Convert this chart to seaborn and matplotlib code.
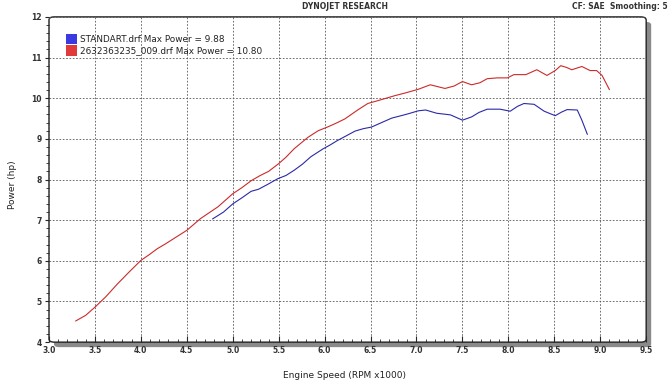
import numpy as np
import pandas as pd
import matplotlib
matplotlib.use('Agg')
import matplotlib.pyplot as plt
import seaborn as sns
from matplotlib.patches import FancyBboxPatch, Patch
from matplotlib.ticker import MultipleLocator

# 数据: 发动机转速 (x1000 RPM) 与功率 (hp)
red_rpm = [3.29, 3.40, 3.50, 3.62, 3.74, 3.87, 4.00, 4.09, 4.18, 4.27, 4.36, 4.50,
           4.65, 4.84, 5.00, 5.10, 5.20, 5.30, 5.39, 5.50, 5.58, 5.67, 5.82, 5.93,
           6.03, 6.12, 6.22, 6.36, 6.47, 6.58, 6.67, 6.76, 6.88, 7.02, 7.15, 7.31,
           7.41, 7.50, 7.60, 7.69, 7.77, 7.88, 7.99, 8.06, 8.19, 8.25, 8.31, 8.42,
           8.51, 8.57, 8.63, 8.69, 8.80, 8.89, 8.96, 9.02, 9.10]
red_hp = [4.52, 4.66, 4.86, 5.12, 5.42, 5.72, 6.01, 6.15, 6.30, 6.42, 6.55, 6.75,
          7.04, 7.33, 7.65, 7.80, 7.97, 8.10, 8.20, 8.39, 8.55, 8.76, 9.04, 9.20,
          9.29, 9.38, 9.49, 9.71, 9.87, 9.94, 10.00, 10.06, 10.13, 10.22, 10.33, 10.24,
          10.30, 10.41, 10.33, 10.38, 10.48, 10.50, 10.50, 10.58, 10.58, 10.64, 10.70, 10.56,
          10.68, 10.80, 10.76, 10.70, 10.78, 10.68, 10.68, 10.56, 10.21]

blue_rpm = [4.78, 4.90, 5.00, 5.10, 5.20, 5.28, 5.38, 5.49, 5.58, 5.67, 5.76, 5.85,
            5.98, 6.06, 6.14, 6.24, 6.33, 6.42, 6.51, 6.62, 6.73, 6.85, 6.93, 7.02,
            7.10, 7.22, 7.37, 7.50, 7.60, 7.68, 7.77, 7.91, 8.02, 8.10, 8.17, 8.28,
            8.39, 8.51, 8.58, 8.64, 8.75, 8.80, 8.86]
blue_hp = [7.03, 7.20, 7.40, 7.55, 7.71, 7.76, 7.88, 8.02, 8.10, 8.23, 8.38, 8.56,
           8.75, 8.85, 8.96, 9.08, 9.19, 9.25, 9.29, 9.40, 9.51, 9.58, 9.63, 9.69,
           9.71, 9.63, 9.59, 9.46, 9.54, 9.65, 9.73, 9.73, 9.68, 9.80, 9.87, 9.85,
           9.68, 9.57, 9.66, 9.72, 9.71, 9.46, 9.11]

label_blue = 'STANDART.drf Max Power = 9.88'
label_red = '2632363235_009.drf Max Power = 10.80'

df = pd.concat([
    pd.DataFrame({'rpm': blue_rpm, 'hp': blue_hp, 'run': label_blue}),
    pd.DataFrame({'rpm': red_rpm, 'hp': red_hp, 'run': label_red}),
])

sns.set_style('white')
plt.rcParams['font.family'] = ['DejaVu Sans']

fig = plt.figure(figsize=(6.71, 3.84), dpi=100)
ax_l, ax_b, ax_w, ax_h = 0.073, 0.109, 0.890, 0.847
ax = fig.add_axes([ax_l, ax_b, ax_w, ax_h])
ax.set_facecolor('none')

# 阴影和圆角边框
sx, sy = 5 / 671, 5 / 384
fig.patches.append(FancyBboxPatch((ax_l + sx, ax_b - sy), ax_w, ax_h,
                                  boxstyle='round,pad=0,rounding_size=0.008',
                                  transform=fig.transFigure, facecolor='#8a8a8a',
                                  edgecolor='none', zorder=-2))
fig.patches.append(FancyBboxPatch((ax_l, ax_b), ax_w, ax_h,
                                  boxstyle='round,pad=0,rounding_size=0.008',
                                  transform=fig.transFigure, facecolor='white',
                                  edgecolor='#222222', linewidth=1.0, zorder=-1))

sns.lineplot(data=df, x='rpm', y='hp', hue='run', sort=False, estimator=None,
             palette={label_blue: '#2a2aa8', label_red: '#cc2a2a'},
             linewidth=0.8, legend=False, ax=ax)

ax.set_xlim(3.0, 9.5)
ax.set_ylim(4, 12)
ax.xaxis.set_major_locator(MultipleLocator(0.5))
ax.xaxis.set_minor_locator(MultipleLocator(0.1))
ax.yaxis.set_major_locator(MultipleLocator(1))
ax.yaxis.set_minor_locator(MultipleLocator(0.2))
ax.set_xticklabels([f'{v:.1f}' for v in ax.get_xticks()])
ax.set_yticklabels([f'{int(v)}' for v in ax.get_yticks()])

for s in ax.spines.values():
    s.set_visible(False)
ax.grid(True, which='major', color='#555555', linestyle=(0, (2, 2)), linewidth=0.6)
ax.tick_params(axis='x', which='major', direction='in', length=4, width=0.8,
               labelsize=5.5, pad=3, bottom=True)
ax.tick_params(axis='x', which='minor', direction='in', length=2, width=0.6, bottom=True)
ax.tick_params(axis='y', which='major', direction='out', length=3, width=0.8,
               labelsize=5.5, pad=2, left=True)
ax.tick_params(axis='y', which='minor', direction='out', length=2, width=0.6, left=True)
for t in ax.get_xticklabels() + ax.get_yticklabels():
    t.set_fontweight('bold')
    t.set_color('#333333')

ax.set_xlabel('')
ax.set_ylabel('')
fig.text(0.514, 0.022, 'Engine Speed (RPM x1000)', ha='center', va='center',
         fontsize=6.5, color='#222222')
fig.text(0.019, 0.518, 'Power (hp)', ha='center', va='center', rotation=90,
         fontsize=6.5, color='#222222')
fig.text(0.514, 0.982, 'DYNOJET RESEARCH', ha='center', va='center',
         fontsize=5.5, fontweight='bold', color='#333333')
fig.text(0.995, 0.982, 'CF: SAE  Smoothing: 5', ha='right', va='center',
         fontsize=5.5, fontweight='bold', color='#333333')

handles = [Patch(facecolor='#3a3ae0', edgecolor='none'),
           Patch(facecolor='#e03a3a', edgecolor='none')]
leg = ax.legend(handles, [label_blue, label_red], loc='upper left',
                bbox_to_anchor=(0.023, 0.958), frameon=False, fontsize=6.4,
                handlelength=1.2, handleheight=1.4, handletextpad=0.3,
                labelspacing=0.1, borderaxespad=0)
for t in leg.get_texts():
    t.set_color('#222222')

fig.savefig('out.png', dpi=100)
